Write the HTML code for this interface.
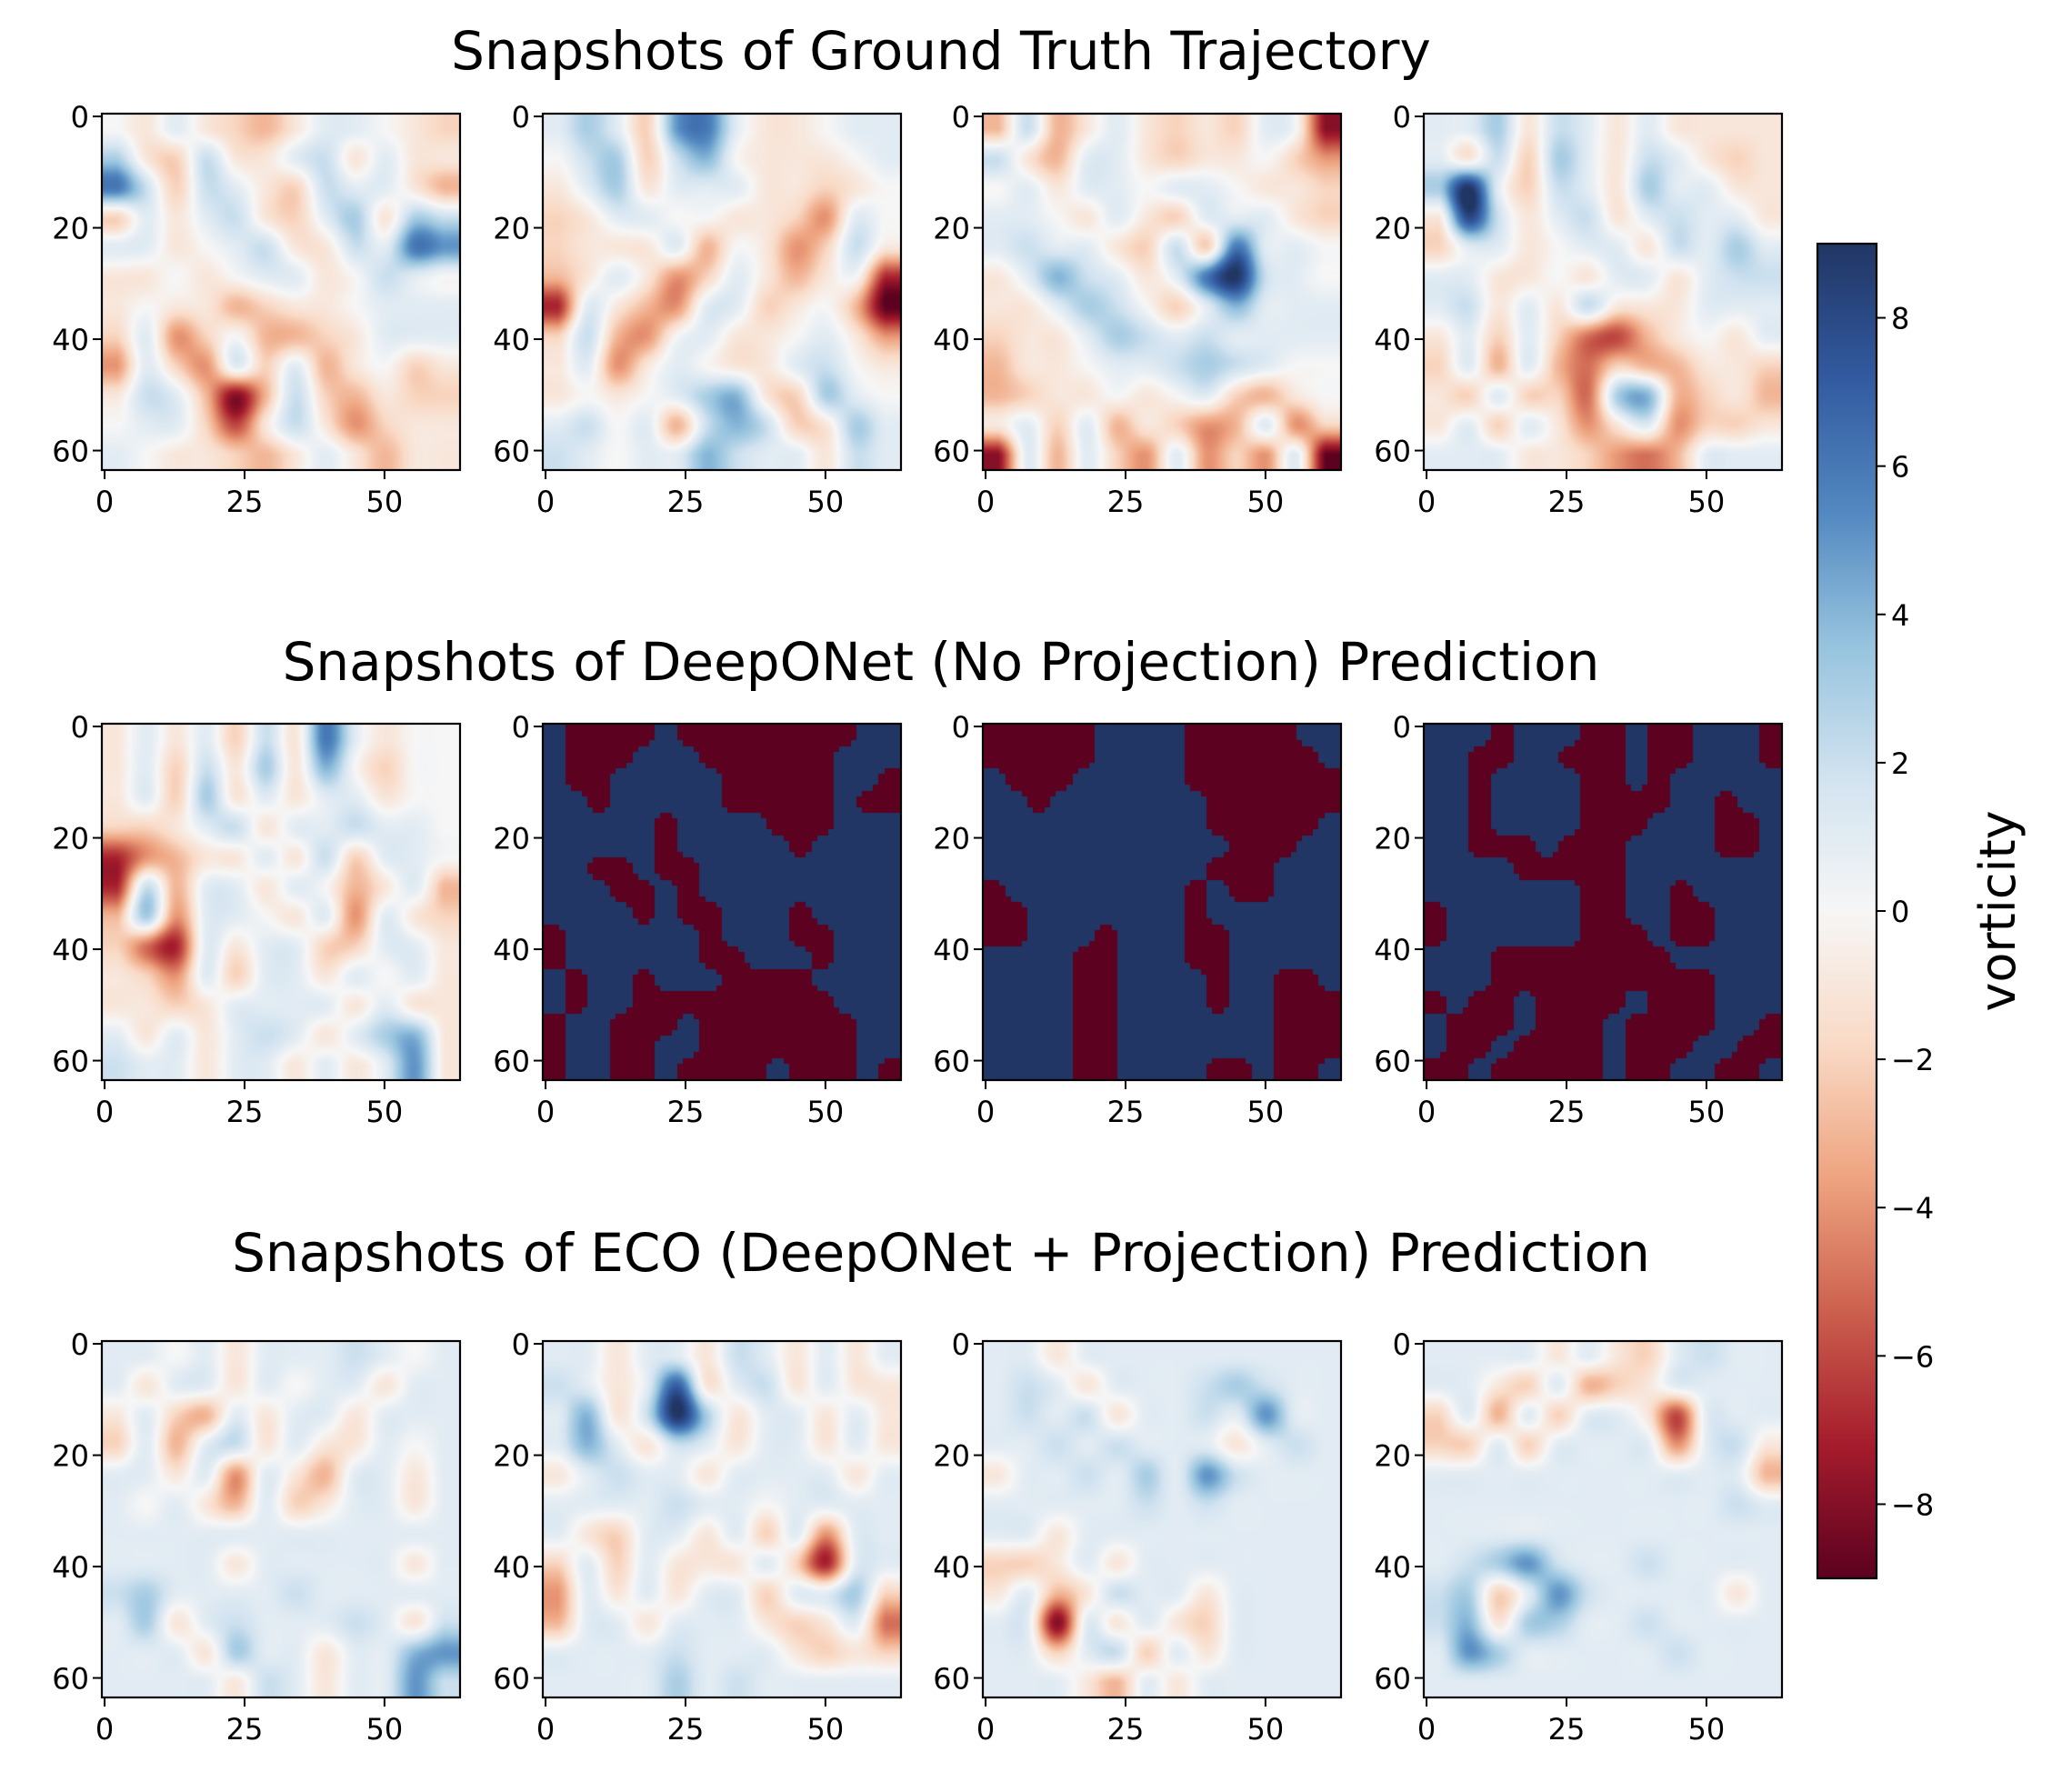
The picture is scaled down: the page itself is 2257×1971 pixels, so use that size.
<!DOCTYPE html>
<html><head><meta charset="utf-8">
<style>
body{margin:0;background:#fff;}
#root{position:relative;width:2257px;height:1971px;overflow:hidden;background:#fff;font-family:"DejaVu Sans","Liberation Sans",sans-serif;}
canvas{position:absolute;}
svg{position:absolute;left:0;top:0;}
</style></head>
<body>
<div id="root">
<svg id="ov" width="2257" height="1971"></svg>
</div>
<script>
const gt1=[[0,-1,1,-1,-2,-3,-1,1,1,0,-1,-2],[3,-1,-2,2,-1,-1,1,2,-1,1,-1,-1],[6,2,-2,2,1,-1,-2,2,1,1,-1,-3],[-2,1,-1,1,2,-1,-2,1,3,-1,3,2],[1,1,-1,0,1,2,-1,-1,2,1,6,5],[-1,-1,0,-1,0,1,1,-1,0,2,1,0],[-1,0,-1,-1,-3,-2,-1,-1,0,1,1,1],[-2,1,-4,-2,0,-3,-3,-2,-1,1,1,1],[-4,1,-2,-4,1,-2,1,-3,-1,0,-2,-1],[-1,2,1,-3,-8,-3,2,-2,-3,-1,-2,-2],[0,1,1,-2,-6,-1,2,-1,-4,-2,-1,-1],[1,0,-1,-1,-2,-3,-1,1,-1,-3,-1,-1]];
const gt2=[[1,3,1,-2,5,6,1,-1,-1,0,1,1],[0,2,3,-2,2,4,0,-1,-1,-1,0,1],[-1,1,3,-1,1,1,1,-1,-1,-2,-1,0],[-2,-1,1,1,0,0,-1,-1,-2,-4,1,0],[-2,-1,-1,-1,1,-3,0,-1,-4,-2,2,-1],[-3,-1,1,-1,-4,-2,1,-1,-3,-1,0,-7],[-7,1,-1,-3,-4,1,1,-2,-1,0,-3,-9],[-2,2,-3,-4,0,1,-1,-1,0,1,-1,-4],[-1,1,-4,-1,1,0,-1,-1,1,2,0,-1],[-1,0,-1,0,1,3,4,-1,-2,3,1,0],[1,2,0,1,-3,2,4,2,-2,-1,3,1],[2,1,0,1,1,4,2,1,1,-1,2,1]];
const gt3=[[-3,2,-3,-1,1,-1,-2,-1,-2,1,0,-8],[2,-1,-3,1,1,-1,-2,-1,-1,0,-2,-4],[0,1,-1,1,1,0,1,1,0,-1,-1,-2],[1,1,0,-1,1,-1,-2,1,1,1,-1,-2],[1,2,1,1,-1,-2,2,-2,6,1,1,0],[-1,1,4,2,1,-1,1,6,9,2,1,0],[-1,-1,1,3,2,0,-2,1,4,1,1,1],[-2,-1,-1,1,3,2,1,2,1,1,1,1],[-3,-1,-1,0,1,1,2,3,2,1,0,0],[-3,-2,-1,-1,0,-1,0,1,-2,-3,-1,0],[-1,1,-2,1,-3,-1,-2,-4,-3,1,-4,-2],[-8,1,-3,1,-2,-4,1,-4,-2,-4,1,-9]];
const gt4=[[1,1,3,-1,2,1,-1,1,-1,-1,-1,-1],[1,-1,2,-2,3,1,-1,2,1,-1,-2,-1],[3,9,1,-2,2,1,-1,3,1,1,-1,-1],[-1,8,2,-1,1,2,-1,1,2,1,1,-1],[-2,1,1,-1,0,1,1,-1,2,1,3,1],[1,1,-1,-1,0,-1,1,1,-1,1,2,2],[1,2,-1,1,-1,2,-1,-1,-1,1,1,1],[-1,1,-2,1,-2,-5,-6,-3,-1,0,-1,1],[-2,1,-3,1,-3,-5,-2,-3,-3,-1,-1,-2],[-1,-2,1,-2,-2,-5,3,4,-3,-2,-1,-3],[-1,1,-2,1,-1,-4,-1,1,-4,-2,-2,-1],[1,1,1,-1,-1,-2,-4,-5,-3,1,1,1]];
const don1=[[-1,1,-1,1,-2,2,-1,6,1,-1,0,0],[-1,1,-2,2,-1,3,-1,4,0,-2,0,0],[-1,1,-2,3,-1,1,-1,1,1,-1,0,0],[-2,-2,-1,1,2,-1,1,1,2,1,1,0],[-7,-4,-3,-1,-1,1,-1,2,-2,1,1,0],[-7,2,-3,1,1,-1,1,0,-3,-1,1,-3],[-3,3,-4,1,1,0,-1,1,-4,1,-1,-2],[-2,-5,-7,1,-1,1,1,-2,-2,1,1,-1],[-1,-2,-4,1,-2,1,1,-1,1,0,1,-1],[-1,-1,-2,-1,1,1,1,1,-1,1,-1,-1],[1,-1,1,-1,1,2,1,-1,1,3,4,-1],[2,1,1,-1,1,1,-1,1,-1,1,5,-1]];
const don2=[[0,1,1,1,1,0,1,1,1,1,1,1,1,1,0,0],[0,1,1,1,0,0,0,1,1,1,1,1,1,0,0,0],[0,1,1,0,0,0,0,0,1,1,1,1,1,0,0,1],[0,0,1,0,0,0,0,0,1,1,1,1,1,0,1,1],[0,0,0,0,0,1,0,0,0,0,1,1,1,0,0,0],[0,0,0,0,0,1,0,0,0,0,0,1,0,0,0,0],[0,0,1,1,0,1,1,0,0,0,0,0,0,0,0,0],[0,0,0,1,1,0,1,0,0,0,0,0,0,0,0,0],[0,0,0,0,1,0,1,1,0,0,0,1,0,0,0,0],[1,0,0,0,0,0,0,1,0,0,0,1,1,0,0,0],[1,0,0,0,0,0,0,1,1,0,0,0,1,0,0,0],[0,1,0,0,1,0,0,0,1,1,1,1,0,0,0,0],[0,1,0,0,1,1,1,1,1,1,1,1,1,0,0,0],[1,0,0,1,1,1,0,1,1,1,1,1,1,1,0,0],[1,0,0,1,1,0,0,1,1,1,1,1,1,1,0,0],[1,0,0,1,1,0,1,1,1,1,0,1,1,1,0,1]];
const don3=[[1,1,1,1,1,0,0,0,0,1,1,1,1,1,0,0],[1,1,1,1,1,0,0,0,0,1,1,1,1,1,1,0],[0,1,1,1,0,0,0,0,0,1,1,1,1,1,1,1],[0,0,1,0,0,0,0,0,0,0,1,1,1,1,1,1],[0,0,0,0,0,0,0,0,0,0,1,1,1,1,1,0],[0,0,0,0,0,0,0,0,0,0,0,1,1,1,0,0],[0,0,0,0,0,0,0,0,0,0,1,1,1,0,0,0],[1,0,0,0,0,0,0,0,0,1,0,1,1,0,0,0],[1,1,0,0,0,0,0,0,0,1,0,0,0,0,0,0],[1,1,0,0,0,1,0,0,0,1,1,0,0,0,0,0],[0,0,0,0,1,1,0,0,0,1,1,0,0,0,0,0],[0,0,0,0,1,1,0,0,0,0,1,0,0,1,1,0],[0,0,0,0,1,1,0,0,0,0,1,0,0,1,1,1],[0,0,0,0,1,1,0,0,0,0,0,0,0,1,1,1],[0,0,0,0,1,1,0,0,0,0,0,0,0,1,1,1],[0,0,0,0,1,1,0,0,0,0,1,1,0,1,1,0]];
const don4=[[0,0,0,1,0,0,0,1,1,0,1,1,0,0,0,1],[0,0,1,1,0,0,1,1,1,0,1,1,0,0,0,1],[0,0,1,0,0,0,0,1,1,0,1,0,0,0,0,0],[0,0,1,0,0,0,0,1,1,1,1,0,0,1,0,0],[0,0,1,0,0,0,0,1,1,1,0,0,0,1,1,0],[0,0,1,1,1,0,1,1,1,0,0,0,0,1,1,0],[0,0,0,0,1,1,1,1,1,0,0,0,0,0,0,0],[0,0,0,0,0,0,0,1,1,0,0,1,0,0,0,0],[1,0,0,0,0,0,0,1,1,0,0,1,1,0,0,0],[1,0,0,0,0,0,0,1,1,1,0,1,1,0,0,0],[0,0,0,1,1,1,1,1,1,1,1,0,0,0,0,0],[0,0,0,1,1,1,1,1,1,1,1,1,1,0,0,0],[1,0,1,1,0,1,1,1,1,0,1,1,1,0,0,0],[0,1,1,1,0,1,1,1,0,1,1,1,1,0,0,1],[0,1,1,0,1,1,1,1,0,1,1,1,0,0,1,1],[1,1,0,1,1,1,1,1,0,1,1,0,0,1,1,0]];
const eco1=[[1,1,0,1,-1,1,1,1,2,1,0,1],[1,-1,1,1,-1,1,0,1,1,-1,1,1],[-1,1,-2,-3,1,-1,1,1,-1,1,1,1],[-2,1,-3,1,2,-1,1,-1,-1,1,0,1],[1,1,-1,1,-4,1,-1,-3,1,1,-1,1],[1,0,1,-1,-3,1,-2,-1,1,1,-1,1],[1,1,1,1,1,1,1,1,1,1,1,1],[1,1,1,1,-1,1,1,1,1,1,-1,1],[2,3,1,1,1,1,2,1,1,1,1,1],[1,3,-1,1,2,1,1,1,2,1,-1,2],[1,1,1,-1,3,1,1,-1,1,1,4,5],[1,1,1,1,-1,2,1,-1,1,1,5,2]];
const eco2=[[1,1,-1,1,1,-1,2,1,-1,1,-1,1],[2,1,-1,1,7,-1,1,2,-1,1,-1,-1],[1,4,-1,2,9,3,-1,1,1,-1,1,-1],[1,4,1,-1,2,1,-1,1,1,-1,1,-1],[-1,1,2,1,1,-1,1,1,1,1,-1,1],[1,1,1,1,2,1,1,0,1,1,1,1],[1,-1,-2,1,1,-1,1,-2,1,-4,1,1],[-2,1,-2,1,-1,-1,-1,1,-2,-7,1,1],[-4,1,-1,1,-1,1,1,-2,1,1,3,-2],[-3,1,1,-1,1,1,1,-1,-2,-1,1,-5],[1,1,1,1,2,1,1,1,-1,-2,-1,-2],[1,1,1,1,3,1,2,1,1,1,1,1]];
const eco3=[[1,1,-1,1,1,1,1,1,1,1,1,1],[1,2,1,-1,1,1,1,2,3,2,1,1],[1,2,1,2,-1,1,1,2,1,5,1,1],[1,1,2,1,2,1,1,1,-1,1,2,1],[-1,1,1,2,1,3,1,5,2,1,1,1],[1,1,1,1,1,2,1,2,1,1,1,1],[1,1,-1,1,1,1,1,1,1,1,1,1],[-2,-2,-1,1,-1,1,1,1,1,1,1,1],[-1,1,-3,-1,2,1,1,-1,1,1,1,1],[1,1,-8,1,-1,1,-1,-2,1,1,1,1],[1,1,-2,1,2,-2,1,-1,1,1,1,1],[1,1,1,-1,-3,1,-1,1,1,1,1,1]];
const eco4=[[1,1,1,1,-1,1,-1,-2,1,2,1,1],[1,1,-1,-2,1,-3,-2,-1,1,1,1,1],[-2,1,-3,1,-2,1,1,-1,-6,1,1,1],[-2,-2,1,-2,1,1,1,1,-4,1,2,-1],[1,1,1,1,1,1,1,1,1,1,1,-3],[1,1,1,1,1,1,1,1,1,1,2,1],[1,1,1,1,1,1,1,1,1,1,1,1],[1,2,3,5,2,1,1,2,1,1,1,1],[2,3,-2,1,5,2,1,1,1,1,-1,1],[2,4,-1,3,3,1,1,2,1,1,1,1],[1,5,3,1,1,1,1,1,2,1,1,1],[1,1,1,1,1,1,1,1,1,1,1,1]];
const xTicks=[0,25,50];
const yTicks=[0,20,40,60];
const cbTicks=[8,6,4,2,0,-2,-4,-6,-8];
const titles=["Snapshots of Ground Truth Trajectory","Snapshots of DeepONet (No Projection) Prediction","Snapshots of ECO (DeepONet + Projection) Prediction"];
const VMIN=-9, VMAX=9;

const panels=[[gt1,gt2,gt3,gt4],[don1,don2,don3,don4],[eco1,eco2,eco3,eco4]];
const binary=[[false,false,false,false],[false,true,true,true],[false,false,false,false]];
const colLeft=[112,597,1081,1566], rowTop=[125,796,1475], PW=394, PH=392;
const titleY=[55,727,1377];
const FONT='"DejaVu Sans","Liberation Sans",sans-serif';

const stops=[[0,[92,1,32]],[0.1,[165,28,44]],[0.2,[204,96,78]],[0.3,[238,164,128]],[0.4,[249,218,198]],[0.5,[246,246,246]],[0.6,[210,227,240]],[0.7,[150,195,222]],[0.8,[82,136,192]],[0.9,[50,90,160]],[1,[33,54,100]]];
function cmap(v){let t=(v-VMIN)/(VMAX-VMIN);t=Math.max(0,Math.min(1,t));
 for(let i=1;i<stops.length;i++){if(t<=stops[i][0]){const a=stops[i-1],b=stops[i];const f=(t-a[0])/(b[0]-a[0]);return a[1].map((c,k)=>Math.round(c+(b[1][k]-c)*f));}}
 return stops[stops.length-1][1];}
function cub(p0,p1,p2,p3,t){return p1+0.5*t*(p2-p0+t*(2*p0-5*p1+4*p2-p3+t*(3*(p1-p2)+p3-p0)));}
function sample(g,x,y){const n=g.length;const fx=Math.max(0,Math.min(n-1,x*n/64-0.5)),fy=Math.max(0,Math.min(n-1,y*n/64-0.5));
 const x0=Math.floor(fx),y0=Math.floor(fy),dx=fx-x0,dy=fy-y0;const cl=i=>Math.max(0,Math.min(n-1,i));
 const rows=[];for(let j=-1;j<=2;j++){const r=g[cl(y0+j)];rows.push(cub(r[cl(x0-1)],r[cl(x0)],r[cl(x0+1)],r[cl(x0+2)],dx));}
 return cub(rows[0],rows[1],rows[2],rows[3],dy);}

const root=document.getElementById('root'), ov=document.getElementById('ov');
const NS='http://www.w3.org/2000/svg';
function sv(tag,attrs,txt){const e=document.createElementNS(NS,tag);for(const k in attrs)e.setAttribute(k,attrs[k]);if(txt!==undefined)e.textContent=txt;ov.appendChild(e);return e;}
const fmt=v=>v<0?'\u2212'+(-v):String(v);

titles.forEach((t,r)=>{const e=sv('text',{x:1035,y:titleY[r]+21,'text-anchor':'middle','font-size':58,fill:'#000','font-family':FONT},t);
 
 });

panels.forEach((row,r)=>row.forEach((g,c)=>{
 const L=colLeft[c],T=rowTop[r];
 const cv=document.createElement('canvas');cv.width=PW;cv.height=PH;cv.style.left=L+'px';cv.style.top=T+'px';
 
 
 const ctx=cv.getContext('2d');
 if(binary[r][c]){
  const small=document.createElement('canvas');small.width=64;small.height=64;
  const sc=small.getContext('2d');const img=sc.createImageData(64,64);
  for(let y=0;y<64;y++)for(let x=0;x<64;x++){const s=sample(g,x+0.5,y+0.5);const col=cmap(s>=0.5?-9:9);
   const i=(y*64+x)*4;img.data[i]=col[0];img.data[i+1]=col[1];img.data[i+2]=col[2];img.data[i+3]=255;}
  sc.putImageData(img,0,0);ctx.imageSmoothingEnabled=false;ctx.drawImage(small,0,0,PW,PH);
 } else {
  const img=ctx.createImageData(PW,PH);
  for(let y=0;y<PH;y++)for(let x=0;x<PW;x++){const col=cmap(sample(g,(x+0.5)/PW*64,(y+0.5)/PH*64));
   const i=(y*PW+x)*4;img.data[i]=col[0];img.data[i+1]=col[1];img.data[i+2]=col[2];img.data[i+3]=255;}
  ctx.putImageData(img,0,0);
 }
 root.insertBefore(cv,ov);
 const fr=sv('rect',{x:L,y:T,width:PW,height:PH,fill:'none',stroke:'#000','stroke-width':2.2});
 
 
 xTicks.forEach(v=>{const px=L+(v+0.5)/64*PW;sv('line',{x1:px,x2:px,y1:T+PH,y2:T+PH+10,stroke:'#000','stroke-width':2});
  const e=sv('text',{x:px,y:T+PH+46,'text-anchor':'middle','font-size':32,fill:'#000','font-family':FONT},fmt(v));
  
  });
 yTicks.forEach(v=>{const py=T+(v+0.5)/64*PH;sv('line',{x1:L-10,x2:L,y1:py,y2:py,stroke:'#000','stroke-width':2});
  const e=sv('text',{x:L-14,y:py+12,'text-anchor':'end','font-size':32,fill:'#000','font-family':FONT},fmt(v));
  
  });
}));

const CBL=1999,CBT=268,CBW=65,CBH=1468;
const cb=document.createElement('canvas');cb.width=CBW;cb.height=CBH;cb.style.left=CBL+'px';cb.style.top=CBT+'px';


const cctx=cb.getContext('2d');
for(let y=0;y<CBH;y++){const v=VMAX-(y+0.5)/CBH*(VMAX-VMIN);const col=cmap(v);cctx.fillStyle='rgb('+col.join(',')+')';cctx.fillRect(0,y,CBW,1);}
root.insertBefore(cb,ov);
const cbf=sv('rect',{x:CBL,y:CBT,width:CBW,height:CBH,fill:'none',stroke:'#000','stroke-width':2.2});


cbTicks.forEach(v=>{const py=CBT+(VMAX-v)/(VMAX-VMIN)*CBH;
 sv('line',{x1:CBL+CBW,x2:CBL+CBW+10,y1:py,y2:py,stroke:'#000','stroke-width':2});
 const e=sv('text',{x:CBL+CBW+16,y:py+12,'font-size':32,fill:'#000','font-family':FONT},fmt(v));
 
 });
const lab=sv('text',{x:0,y:0,'text-anchor':'middle','font-size':54,fill:'#000','font-family':FONT,transform:'translate(2216,1002) rotate(-90)'},'vorticity');


</script>
</body></html>
